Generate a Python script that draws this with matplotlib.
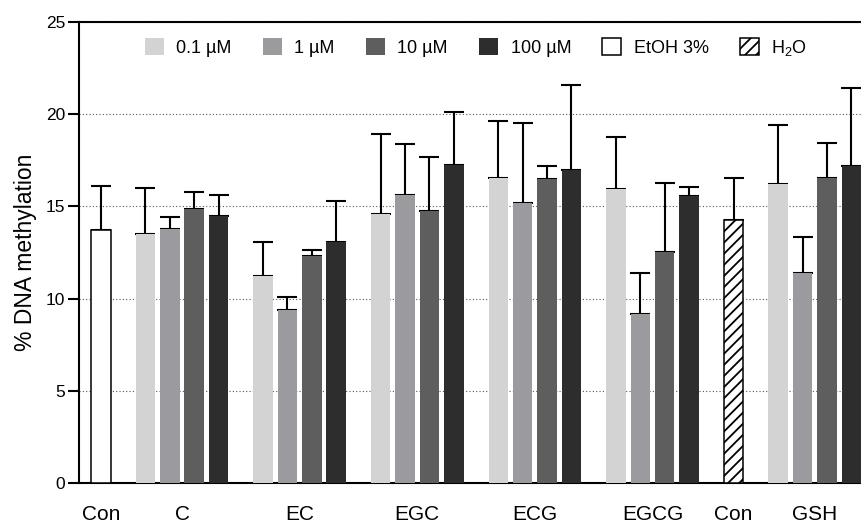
import numpy as np
import matplotlib
matplotlib.use("Agg")
import matplotlib.pyplot as plt
from matplotlib.patches import Patch

plt.rcParams['font.family'] = ['Liberation Sans', 'DejaVu Sans']
plt.rcParams['hatch.linewidth'] = 1.3

# dati (media e errore superiore)
gruppi = ["Con", "C", "EC", "EGC", "ECG", "EGCG", "Con", "GSH"]
concentrazioni = ["0.1 µM", "1 µM", "10 µM", "100 µM"]

con_etoh = 13.72
con_etoh_err = 2.40
con_h2o = 14.25
con_h2o_err = 2.27

# righe: C, EC, EGC, ECG, EGCG, GSH ; colonne: 0.1, 1, 10, 100 µM
medie = [
    [13.50, 13.76, 14.84, 14.48],
    [11.23, 9.38, 12.31, 13.07],
    [14.60, 15.60, 14.73, 17.25],
    [16.52, 15.18, 16.49, 16.99],
    [15.92, 9.16, 12.53, 15.58],
    [16.21, 11.41, 16.52, 17.21],
]
errori = [
    [2.50, 0.68, 0.96, 1.16],
    [1.84, 0.72, 0.34, 2.20],
    [4.34, 2.78, 2.93, 2.85],
    [3.13, 4.36, 0.72, 4.59],
    [2.84, 2.24, 3.72, 0.46],
    [3.20, 1.95, 1.90, 4.21],
]

colori = ["#d3d3d3", "#9b9b9f", "#5e5e5e", "#2d2d2d"]

# posizioni: passo 1 dentro il gruppo, 1.83 tra gruppi
passo_gruppo = 1.83
largh = 0.8
dimensioni = [1, 4, 4, 4, 4, 4, 1, 4]
centri = []
x = 0.0
for n in dimensioni:
    pos = x + np.arange(n)
    centri.append(pos)
    x = pos[-1] + passo_gruppo

fig = plt.figure(figsize=(8.62, 5.24), dpi=100)
ax = fig.add_axes([79/862, 1-483/524, 1-79/862, (483-22)/524])

err_kw = dict(ecolor="black", elinewidth=1.5, capsize=7, capthick=1.5, zorder=2)

# controllo EtOH
ax.bar(centri[0], [con_etoh], width=largh, color="white", edgecolor="black",
       linewidth=1.1, zorder=3)
ax.errorbar(centri[0], [con_etoh], yerr=[[0], [con_etoh_err]], fmt="none", **err_kw)

# controllo H2O
ax.bar(centri[6], [con_h2o], width=largh, color="white", edgecolor="black",
       linewidth=1.1, hatch="///", zorder=3)
ax.errorbar(centri[6], [con_h2o], yerr=[[0], [con_h2o_err]], fmt="none", **err_kw)

idx_gruppi = [1, 2, 3, 4, 5, 7]
for r, g in enumerate(idx_gruppi):
    for j in range(4):
        xc = centri[g][j]
        ax.bar([xc], [medie[r][j]], width=largh, color=colori[j], linewidth=0, zorder=3)
        ax.errorbar([xc], [medie[r][j]], yerr=[[0], [errori[r][j]]], fmt="none", **err_kw)

ax.set_ylim(0, 25)
ax.set_yticks([0, 5, 10, 15, 20, 25])
ax.set_xlim(-0.9, 31.25)
ax.set_xticks([c.mean() for c in centri])
ax.set_xticklabels(gruppi, fontsize=15)
ax.tick_params(axis="x", length=0, pad=16)
ax.tick_params(axis="y", length=8, width=1.5, labelsize=12.5, pad=2)
ax.set_ylabel("% DNA methylation", fontsize=16.5, labelpad=6)

ax.yaxis.grid(True, linestyle=(0, (1, 2)), color="#555555", linewidth=0.8, zorder=0)
ax.set_axisbelow(True)
ax.spines["right"].set_visible(False)
for s in ["left", "bottom", "top"]:
    ax.spines[s].set_linewidth(1.5)

maniglie = [Patch(facecolor=c, edgecolor="none") for c in colori]
maniglie.append(Patch(facecolor="white", edgecolor="black", linewidth=1.1))
maniglie.append(Patch(facecolor="white", edgecolor="black", linewidth=1.1, hatch="///"))
etichette = concentrazioni + ["EtOH 3%", r"$\mathregular{H_2O}$"]
fig.legend(maniglie, etichette, loc="center", bbox_to_anchor=(476/862, 1-48/524),
           ncol=6, frameon=False, fontsize=13, handlelength=1.05, handleheight=1.05,
           handletextpad=0.7, columnspacing=1.72, borderpad=0)

fig.savefig("out.png", dpi=100)
